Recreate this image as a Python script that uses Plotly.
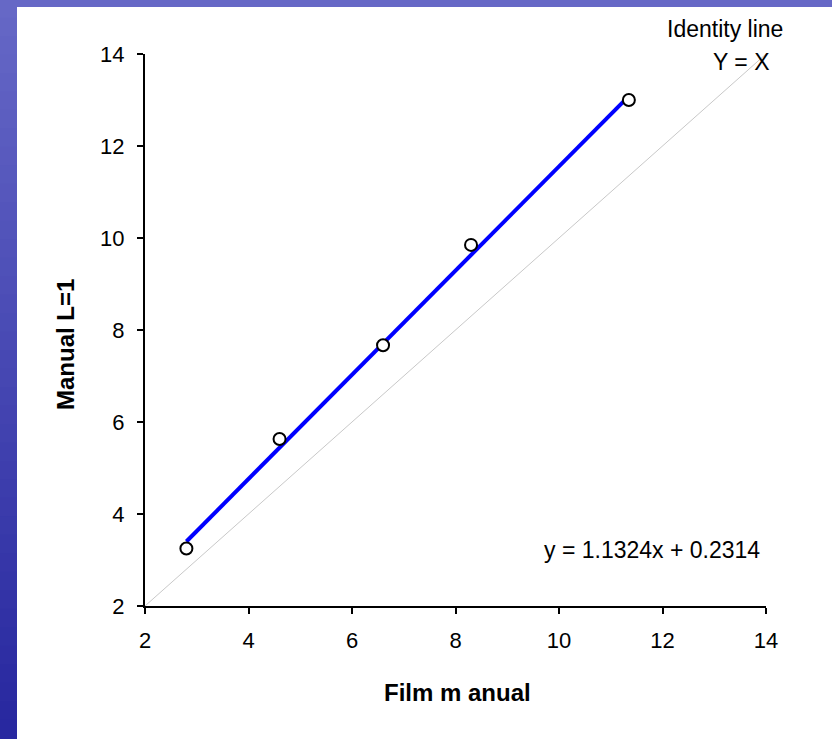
import plotly.graph_objects as go

film_manual = [2.8, 4.6, 6.6, 8.3, 11.35]
manual_l1 = [3.25, 5.63, 7.67, 9.85, 13.0]
slope = 1.1324
intercept = 0.2314
identity_range = [2, 14]
tick_vals = [2, 4, 6, 8, 10, 12, 14]

W, H = 832, 739
L, R, T, B = 145, 66, 54, 133
PW, PH = W - L - R, H - T - B


def px(x):
    return (x - L) / PW


def py(y):
    return (H - B - y) / PH


fig = go.Figure()

# identity line
fig.add_trace(go.Scatter(x=identity_range, y=identity_range, mode="lines",
                         line=dict(color="#c8c8c8", width=1), showlegend=False, hoverinfo="skip",
                         cliponaxis=False))
# fit line
fx = [min(film_manual), max(film_manual)]
fy = [slope * v + intercept for v in fx]
fig.add_trace(go.Scatter(x=fx, y=fy, mode="lines",
                         line=dict(color="#0000ff", width=4), showlegend=False))
# points
fig.add_trace(go.Scatter(x=film_manual, y=manual_l1, mode="markers",
                         marker=dict(symbol="circle", size=12, color="white",
                                     line=dict(color="black", width=2)),
                         showlegend=False))

# background: blue gradient strips + white panel
shapes = []
n = 40
top = (0x66, 0x68, 0xc6)
bot = (0x28, 0x28, 0xa0)
for i in range(n):
    t = i / (n - 1)
    c = tuple(int(top[k] + (bot[k] - top[k]) * t) for k in range(3))
    shapes.append(dict(type="rect", xref="paper", yref="paper", layer="below",
                       x0=px(-5), x1=px(W + 5),
                       y0=py((i + 1) * H / n + 1), y1=py(i * H / n - 1),
                       fillcolor="rgb(%d,%d,%d)" % c, line=dict(width=0)))
# white panel: pixel x 17..832, y 7..739
shapes.append(dict(type="rect", xref="paper", yref="paper", layer="below",
                   x0=px(17), x1=px(W + 5), y0=py(H + 5), y1=py(7),
                   fillcolor="white", line=dict(width=0)))

font = "Liberation Sans, Arial, sans-serif"
axis_common = dict(range=[2, 14], tickvals=tick_vals, showgrid=False, zeroline=False,
                   showline=True, linecolor="black", linewidth=2,
                   ticks="outside", ticklen=6, tickwidth=2, tickcolor="black",
                   tickfont=dict(size=22), ticklabelstandoff=8)
fig.update_layout(
    width=W, height=H,
    margin=dict(l=L, r=R, t=T, b=B),
    paper_bgcolor="#4a4cb8", plot_bgcolor="rgba(0,0,0,0)",
    shapes=shapes,
    font=dict(family=font, size=22, color="black"),
    xaxis=dict(**axis_common),
    yaxis=dict(**axis_common),
    annotations=[
        dict(text="<b>Film m anual</b>", xref="paper", yref="paper",
             x=px(457), y=py(692), showarrow=False, font=dict(size=24),
             xanchor="center", yanchor="middle"),
        dict(text="<b>Manual L=1</b>", xref="paper", yref="paper",
             x=px(65), y=py(345), showarrow=False, font=dict(size=24), textangle=-90,
             xanchor="center", yanchor="middle"),
        dict(text="Identity line", xref="paper", yref="paper",
             x=px(725), y=py(29), showarrow=False,
             font=dict(size=23), xanchor="center", yanchor="middle"),
        dict(text="Y = X", xref="paper", yref="paper",
             x=px(741), y=py(62), showarrow=False,
             font=dict(size=23), xanchor="center", yanchor="middle"),
        dict(text="y = 1.1324x + 0.2314", xref="paper", yref="paper",
             x=px(652), y=py(550), showarrow=False,
             font=dict(size=23), xanchor="center", yanchor="middle"),
    ],
)

fig.write_html("out.html", config={"displayModeBar": False},
               post_script="document.body.style.margin='0';document.body.style.overflow='hidden';")
